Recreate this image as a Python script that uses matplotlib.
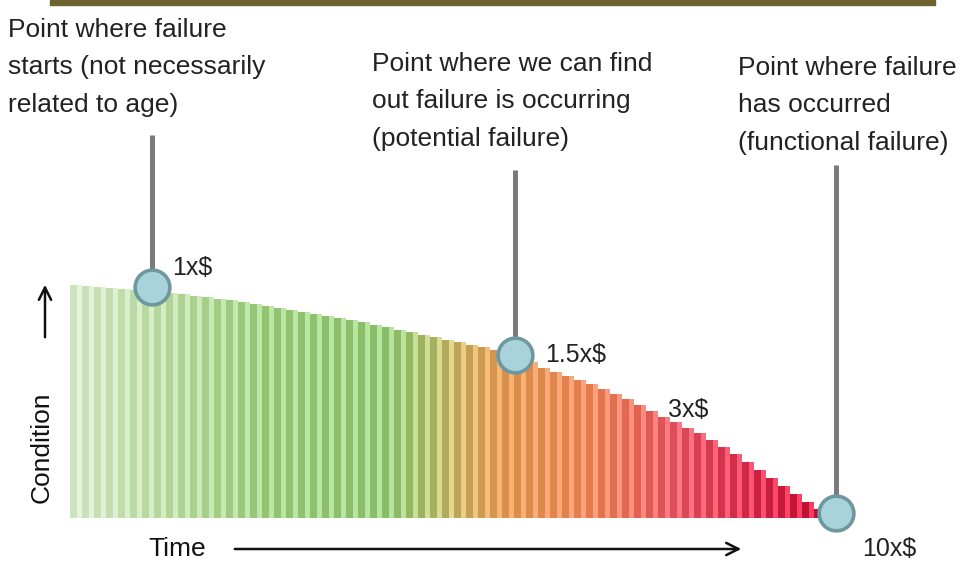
import numpy as np
import matplotlib
matplotlib.use("Agg")
import matplotlib.pyplot as plt
from matplotlib.colors import LinearSegmentedColormap
from matplotlib.patches import Rectangle, FancyArrowPatch

plt.rcParams['font.family'] = ['Liberation Sans', 'DejaVu Sans']

# condition of the asset over time, one value per stripe
condition = [233, 232, 231, 230, 229, 228, 227, 226, 225, 224,
             222, 221, 219, 218, 216, 214, 212, 210, 208, 206,
             204, 202, 200, 198, 196, 193, 191, 188, 186, 183,
             181, 178, 176, 173, 171, 168, 165, 161, 156, 150,
             146, 142, 138, 134, 129, 124, 119, 113, 107, 101,
             96, 90, 85, 78, 71, 64, 56, 48, 40, 32,
             24, 16, 9, 3]
time = np.arange(len(condition))

# the three points on the curve
point_time = [6.3, 36.6, 63.3]
point_cond = [231, 163, 5]
line_top = [383, 348, 353]
point_text = ["Point where failure\nstarts (not necessarily\nrelated to age)",
              "Point where we can find\nout failure is occurring\n(potential failure)",
              "Point where failure\nhas occurred\n(functional failure)"]
text_xy = [(8, 18), (372, 52), (738, 56)]

cost_labels = ["1x$", "1.5x$", "3x$", "10x$"]
cost_time = [8.0, 39.1, 49.3, 65.5]
cost_cond = [250, 163, 108, -31]

W, H = 969, 565
fig = plt.figure(figsize=(W / 100, H / 100), dpi=100)
fig.patch.set_facecolor('white')

# thin olive strip at the very top
fig.patches.append(Rectangle((50 / W, 1 - 5 / H), 885 / W, 5 / H,
                             transform=fig.transFigure, color='#6d6331'))

ax = fig.add_axes([70 / W, 47 / H, 768 / W, 268 / H])
ax.set_xlim(-0.5, len(condition) - 0.5)
ax.set_ylim(0, 268)
ax.axis('off')

dark = LinearSegmentedColormap.from_list('dark', [
    (0.0, '#cde3bd'), (0.12, '#b2d69a'), (0.25, '#92c472'), (0.42, '#88bc66'),
    (0.49, '#b0ac5c'), (0.56, '#d8944a'), (0.68, '#e47c4c'), (0.8, '#dc4c58'),
    (0.9, '#cc2444'), (1.0, '#b80a2e')])
light = LinearSegmentedColormap.from_list('light', [
    (0.0, '#e6f3dc'), (0.12, '#d2ecbf'), (0.25, '#bce6a4'), (0.42, '#b6e49e'),
    (0.49, '#e4d890'), (0.56, '#f8b472'), (0.68, '#ffa07c'), (0.8, '#ff7484'),
    (0.9, '#ff5070'), (1.0, '#ff3058')])
frac = time / time.max()

ax.bar(time, condition, width=1.0, color=light(frac), linewidth=0)
ax.bar(time - 0.2, condition, width=0.55, color=dark(frac), linewidth=0)

# gray stems and circles
for t, c, top in zip(point_time, point_cond, line_top):
    ax.plot([t, t], [c, top], color='#7b7b7b', lw=3.6, clip_on=False,
            solid_capstyle='butt', zorder=3)
    ax.plot(t, c, 'o', ms=25, mfc='#a9d3da', mec='#6f97a0', mew=2.6,
            clip_on=False, zorder=4)

for lab, t, c in zip(cost_labels, cost_time, cost_cond):
    ax.text(t, c, lab, fontsize=18, va='center', ha='left', color='#222222',
            clip_on=False)

for txt, (x, y) in zip(point_text, text_xy):
    fig.text(x / W, 1 - y / H, txt, fontsize=19, va='top', ha='left',
             linespacing=1.7, color='#222222')

# axis labels with arrows
fig.text(42 / W, 1 - 447 / H, "Condition", rotation=90, fontsize=19,
         ha='center', va='center', color='#111111')
fig.text(148 / W, 1 - 549 / H, "Time", fontsize=19, ha='left', va='center',
         color='#111111')
fig.patches.append(FancyArrowPatch(
    (45 / W, 1 - 340 / H), (45 / W, 1 - 282 / H), transform=fig.transFigure,
    arrowstyle='->', mutation_scale=22, lw=1.8, color='#111111'))
fig.patches.append(FancyArrowPatch(
    (232 / W, 1 - 549 / H), (744 / W, 1 - 549 / H), transform=fig.transFigure,
    arrowstyle='->', mutation_scale=22, lw=1.8, color='#111111'))

fig.savefig('out.png', dpi=100)
